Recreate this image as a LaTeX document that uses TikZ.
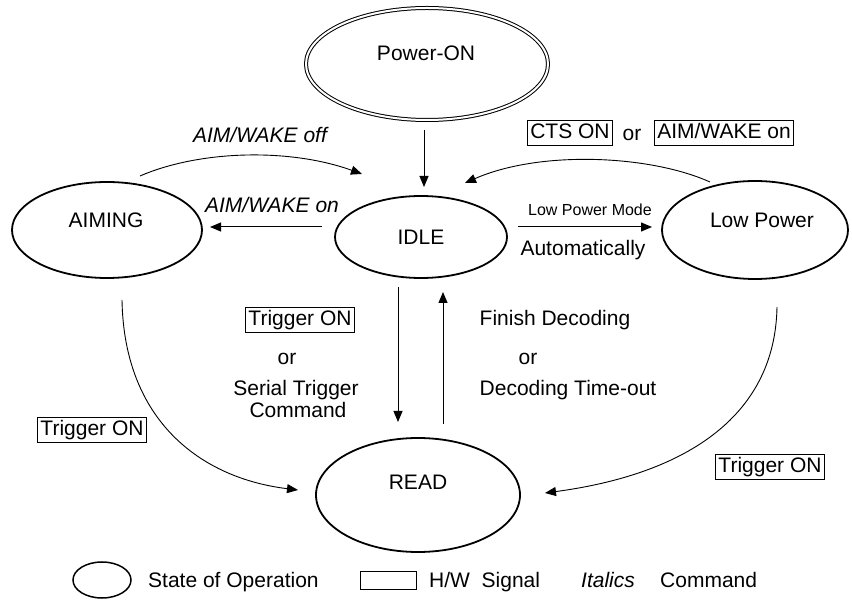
\documentclass[tikz,border=0pt]{standalone}
\usepackage{fontspec}
\setmainfont{Liberation Sans}
\usetikzlibrary{shapes.geometric,arrows.meta,calc}
\begin{document}
\begin{tikzpicture}[x=1pt,y=-1pt,
  state/.style={ellipse,draw,line width=1.8pt,inner sep=0pt},
  lbl/.style={font=\fontsize{21pt}{25pt}\selectfont,inner sep=0pt,text height=15pt,text depth=0pt},
  ilbl/.style={lbl,font=\fontsize{21pt}{25pt}\selectfont\itshape},
  small/.style={font=\fontsize{16pt}{19pt}\selectfont,inner sep=0pt,text height=11.5pt,text depth=0pt},
  hw/.style={draw,line width=1pt,font=\fontsize{21pt}{25pt}\selectfont,inner xsep=2.5pt,inner ysep=3pt,text height=15pt,text depth=4.5pt},
  arr/.style={line width=1pt,-{Triangle[length=11pt,width=9pt]}},
  curv/.style={line width=0.9pt,-{Triangle[length=11pt,width=9pt]}}
]
\useasboundingbox (0,0) rectangle (852,601);

% states
\node[state,double,double distance=2pt,line width=1pt,minimum width=242pt,minimum height=112pt] (pon) at (427,64) {};
\node[lbl] (pont) at (426,53) {Power-ON};
\node[state,minimum width=172pt,minimum height=82pt] (idle) at (421,237) {};
\node[lbl] (idlet) at (421,237) {IDLE};
\node[state,minimum width=190pt,minimum height=96pt] (aim) at (107,230) {};
\node[lbl] (aimt) at (106,220) {AIMING};
\node[state,minimum width=186pt,minimum height=98pt] (low) at (755,230) {};
\node[lbl] (lowt) at (762,220) {Low Power};
\node[state,minimum width=204pt,minimum height=114pt] (read) at (418,495) {};
\node[lbl] (readt) at (418,482) {READ};

% connector end points
\coordinate (p1) at ($(pon.center)+(-3,66)$);
\coordinate (p2) at ($(idle.center)+(3,-50)$);
\coordinate (i1) at ($(idle.center)+(-99,-10)$);
\coordinate (a1) at ($(aim.center)+(103,-3)$);
\coordinate (i2) at ($(idle.center)+(97,-10)$);
\coordinate (l1) at ($(low.center)+(-103,-3)$);
\coordinate (l2) at ($(low.center)+(-45,-48)$);
\coordinate (i3) at ($(idle.center)+(44,-54)$);
\coordinate (a2) at ($(aim.center)+(33,-54)$);
\coordinate (i4) at ($(idle.center)+(-59,-63)$);
\coordinate (i5) at ($(idle.center)+(-23,50)$);
\coordinate (r1) at ($(read.center)+(-20,-73)$);
\coordinate (r2) at ($(read.center)+(25,-71)$);
\coordinate (i6) at ($(idle.center)+(22,55)$);
\coordinate (a3) at ($(aim.center)+(15,70)$);
\coordinate (r3) at ($(read.center)+(-120,-5)$);
\coordinate (l3) at ($(low.center)+(22,77)$);
\coordinate (r4) at ($(read.center)+(127,-2)$);

% connectors
\draw[arr] (p1) -- (p2);
\draw[arr] (i1) -- (a1);
\draw[arr] (i2) -- (l1);
\draw[curv] (l2) .. controls (650,155) and (540,150) .. (i3);
\draw[curv] (a2) .. controls (200,150) and (290,148) .. (i4);
\draw[arr] (i5) -- (r1);
\draw[arr] (r2) -- (i6);
\draw[curv] (a3) .. controls (124,420) and (200,478) .. (r3);
\draw[curv] (l3) .. controls (775,420) and (680,475) .. (r4);

% labels
\node[ilbl] (t1) at (260,135) {AIM/WAKE off};
\node[ilbl] (t2) at (272,205) {AIM/WAKE on};
\node[hw] (t3) at (570,133) {CTS ON};
\node[lbl] (t4) at (632,133) {or};
\node[hw] (t5) at (724,133) {AIM/WAKE on};
\node[small] (t6) at (590,210) {Low Power Mode};
\node[lbl] (t7) at (583,248) {Automatically};
\node[hw] (t8) at (300,320) {Trigger ON};
\node[lbl] (t9) at (287,357) {or};
\node[lbl] (t10) at (296,388) {Serial Trigger};
\node[lbl] (t11) at (298,410) {Command};
\node[lbl] (t12) at (555,318) {Finish Decoding};
\node[lbl] (t13) at (528,357) {or};
\node[lbl] (t14) at (568,388) {Decoding Time-out};
\node[hw] (t15) at (92,430) {Trigger ON};
\node[hw] (t16) at (770,467) {Trigger ON};

% legend
\node[ellipse,draw,line width=1.5pt,inner sep=0pt,minimum width=58pt,minimum height=36pt] (lg1) at (102,580) {};
\node[lbl,anchor=west] (lg1t) at (148,580) {State of Operation};
\node[draw,line width=1pt,inner sep=0pt,minimum width=56pt,minimum height=18pt] (lg2) at (388,580) {};
\node[lbl,anchor=west] (lg2t) at (429,580) {H/W\ \ Signal};
\node[ilbl,anchor=west] (lg3) at (581,580) {Italics};
\node[lbl,anchor=west] (lg3t) at (660,580) {Command};
\end{tikzpicture}
\end{document}
